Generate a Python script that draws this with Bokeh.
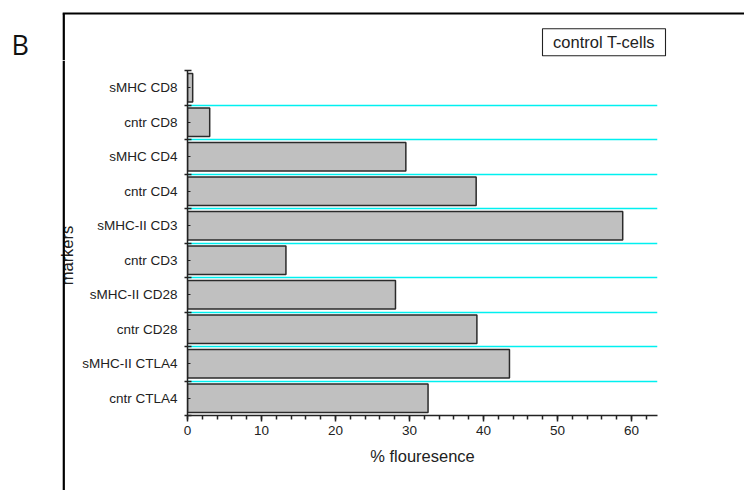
import math
from bokeh.plotting import figure
from bokeh.layouts import row, column
from bokeh.models import Range1d, FixedTicker, SingleIntervalTicker, CustomJSTickFormatter
from bokeh.core.properties import value
from bokeh.embed import file_html
from bokeh.resources import INLINE

# Markers, listed from the bottom bar to the top bar
markers = ["cntr CTLA4", "sMHC-II CTLA4", "cntr CD28", "sMHC-II CD28", "cntr CD3",
           "sMHC-II CD3", "cntr CD4", "sMHC CD4", "cntr CD8", "sMHC CD8"]
fluorescence = [32.5, 43.5, 39.1, 28.1, 13.3, 58.8, 39.0, 29.5, 3.0, 0.7]

panel_letter = "B"
legend_text = "control T-cells"
x_title = "% flouresence"
y_title = "markers"

FONT = "Liberation Sans"
INK = "#222222"
FRAME_W = 2.2
EDGE_X = 13.3     # enclosing frame edge, from the left of the strips


def sheet(w, h):
    """A plain drawing surface whose data units are pixels (y pointing up)."""
    f = figure(width=w, height=h, output_backend="svg", toolbar_location=None,
               x_range=Range1d(0, w), y_range=Range1d(0, h),
               x_axis_type=None, y_axis_type=None, min_border=0, frame_align=False)
    f.outline_line_color = None
    f.background_fill_color = "white"
    f.border_fill_color = "white"
    return f


# --- panel letter column -------------------------------------------------
letter = sheet(50, 490)
letter.text(x=[11], y=[490 - 44.3], text=[panel_letter], text_font=value("Open Sans"),
            text_font_size="27px", text_color="#111111", text_baseline="middle",
            text_align="left")

# --- header strip: top edge of the enclosing frame and the legend box ----
header = sheet(694, 60)
header.line(x=[EDGE_X, EDGE_X], y=[0, 47], line_color="black", line_width=FRAME_W)
header.line(x=[EDGE_X - 1.1, 694], y=[47, 47], line_color="black", line_width=FRAME_W)
header.rect(x=[553.5], y=[60 - 41.7], width=123, height=27, fill_color="white",
            line_color=INK, line_width=1.1)
header.text(x=[553.5], y=[60 - 41.7], text=[legend_text], text_font=value(FONT),
            text_font_size="16.5px", text_color=INK, text_align="center",
            text_baseline="middle")

# --- left strip: rotated y title with the frame edge over it --------------
strip = sheet(28, 430)
strip.text(x=[16.9], y=[430 - (255 - 60)], text=[y_title], angle=math.pi / 2,
           text_font=value(FONT), text_font_size="16.5px", text_color=INK,
           text_align="center", text_baseline="middle")
strip.line(x=[EDGE_X, EDGE_X], y=[0, 430], line_color="black", line_width=FRAME_W)

# --- bar chart -------------------------------------------------------------
n = len(markers)
centers = [i + 0.5 for i in range(n)]
bounds = list(range(n + 1))

p = figure(width=666, height=430, output_backend="svg", toolbar_location=None,
           x_range=Range1d(0, 63.5), y_range=Range1d(0, n), frame_align=False,
           min_border_left=109, min_border_right=87, min_border_top=10, min_border_bottom=75)
p.outline_line_color = None
p.background_fill_color = "white"
p.border_fill_color = "white"

p.hbar(y=centers, right=fluorescence, left=0, height=0.82,
       fill_color="#c0c0c0", line_color="#2a2a2a", line_width=1.5)

xa = p.xaxis[0]
xa.ticker = SingleIntervalTicker(interval=10, num_minor_ticks=5)
xa.axis_label = x_title
xa.axis_label_text_font = FONT
xa.axis_label_text_font_size = "16.5px"
xa.axis_label_text_font_style = "normal"
xa.axis_label_text_color = INK
xa.axis_label_standoff = 9
xa.major_label_text_font = FONT
xa.major_label_text_font_size = "13.5px"
xa.major_label_text_color = INK
xa.major_label_standoff = 4
xa.axis_line_width = 1.5
xa.axis_line_color = INK
xa.major_tick_line_width = 1.5
xa.major_tick_line_color = INK
xa.minor_tick_line_width = 1.5
xa.minor_tick_line_color = INK
xa.major_tick_out = 6
xa.major_tick_in = 0
xa.minor_tick_out = 4
xa.minor_tick_in = 0

# y axis: names at the bar centres, crossing ticks on the category boundaries
ya = p.yaxis[0]
ya.ticker = FixedTicker(ticks=centers, minor_ticks=bounds)
ya.formatter = CustomJSTickFormatter(args=dict(labels=markers),
                                     code="return labels[Math.round(tick - 0.5)] || '';")
ya.major_label_text_font = FONT
ya.major_label_text_font_size = "13.5px"
ya.major_label_text_color = INK
ya.major_label_standoff = 7
ya.axis_line_width = 1.5
ya.axis_line_color = INK
ya.major_tick_line_width = 1.2
ya.major_tick_line_color = INK
ya.major_tick_in = 3
ya.major_tick_out = 0
ya.minor_tick_line_width = 1.5
ya.minor_tick_line_color = INK
ya.minor_tick_in = 4
ya.minor_tick_out = 3

# cyan separators between categories
p.xgrid.visible = False
p.ygrid.ticker = FixedTicker(ticks=bounds[1:-1])
p.ygrid.grid_line_color = "#00f0f0"
p.ygrid.grid_line_width = 1.5

page = row(letter, column(header, row(strip, p)))

open("out.html", "w").write(file_html(page, INLINE))
